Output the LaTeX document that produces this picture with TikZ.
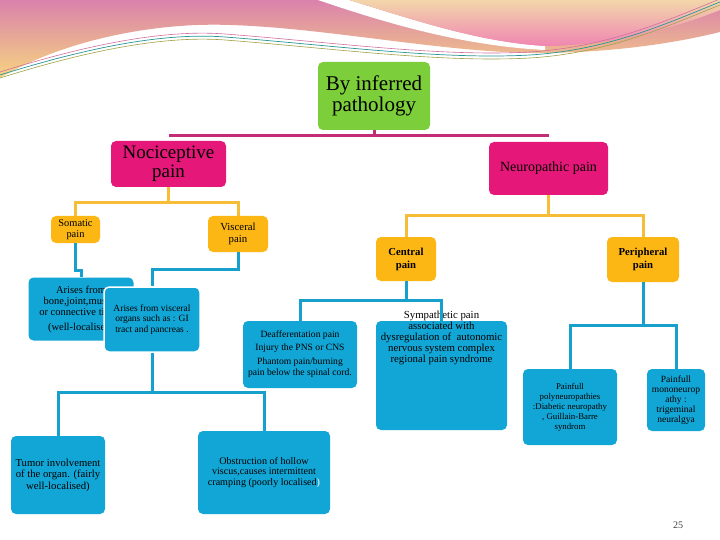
\documentclass[tikz,border=0pt]{standalone}
\usepackage{fontspec}
\setmainfont{Liberation Serif}
\usepackage{xcolor}

\definecolor{rootgreen}{RGB}{124,206,58}
\definecolor{nocipink}{RGB}{229,24,122}
\definecolor{linepink}{RGB}{196,44,118}
\definecolor{boxyellow}{RGB}{252,183,20}
\definecolor{lineyellow}{RGB}{246,190,56}
\definecolor{boxblue}{RGB}{18,166,214}
\definecolor{lineblue}{RGB}{24,160,204}
\definecolor{swpink}{RGB}{218,130,172}
\definecolor{swyellow}{RGB}{246,212,128}
\definecolor{swpeach}{RGB}{242,214,170}
\definecolor{swrose}{RGB}{240,134,178}
\definecolor{swteal}{RGB}{40,150,150}
\definecolor{swolive}{RGB}{160,160,70}
\definecolor{swline}{RGB}{208,112,160}

\tikzset{
  box/.style={rectangle,rounded corners=5pt,inner sep=0pt,align=center,text=black},
  greenbox/.style={box,fill=rootgreen},
  pinkbox/.style={box,fill=nocipink},
  yellowbox/.style={box,fill=boxyellow},
  bluebox/.style={box,fill=boxblue},
  pinkline/.style={draw=linepink,line width=3pt},
  yline/.style={draw=lineyellow,line width=3pt},
  bline/.style={draw=lineblue,line width=3pt}
}

\begin{document}
\begin{tikzpicture}[x=1pt,y=-1pt]
      \useasboundingbox (0,0) rectangle (720,540);
      \fill[white] (0,0) rectangle (720,540);
      % slide swoosh
      \shade[top color=swpink,bottom color=swyellow] (0,0) -- (0,78) .. controls (60,42) and (150,22) .. (230,25) .. controls (330,28) and (450,54) .. (545,53) .. controls (620,52) and (680,42) .. (720,32) -- (720,0) -- cycle;
      \fill[white] (318,0) .. controls (400,28) and (470,46) .. (545,50) -- (545,46) .. controls (480,42) and (420,22) .. (349,0) -- cycle;
      \shade[top color=swpeach,bottom color=swrose] (349,0) .. controls (420,22) and (480,42) .. (545,46) .. controls (620,46) and (690,22) .. (720,10) -- (720,0) -- cycle;
      \draw[swline,line width=0.6pt] (0,72) .. controls (80,47) and (160,29) .. (225,34) .. controls (330,42) and (440,57) .. (530,52) .. controls (610,47) and (670,19) .. (720,-1);
      \draw[swteal,line width=0.7pt] (0,75) .. controls (80,50) and (160,32) .. (225,37) .. controls (330,45) and (440,60) .. (530,55) .. controls (610,50) and (670,22) .. (720,2);
      \draw[swolive,line width=0.6pt] (0,78) .. controls (80,53) and (160,35) .. (225,40) .. controls (330,48) and (440,63) .. (530,58) .. controls (610,53) and (670,25) .. (720,5);

      \node[greenbox,minimum width=112,minimum height=68,font=\fontsize{21}{21}\selectfont] (root) at (374,96) {By inferred\\pathology};
      \node[pinkbox,minimum width=115,minimum height=46,font=\fontsize{19}{19}\selectfont] (noci) at (168.5,164) {Nociceptive\\pain};
      \node[pinkbox,minimum width=119,minimum height=53,font=\fontsize{14}{14}\selectfont] (neuro) at (548.5,168.5) {Neuropathic pain};
      \node[yellowbox,minimum width=49,minimum height=27,font=\fontsize{10.4}{11}\selectfont] (som) at (75.5,229.5) {Somatic\\pain};
      \node[yellowbox,minimum width=60,minimum height=36,font=\fontsize{10.8}{12}\selectfont] (visc) at (238,234) {Visceral\\pain};
      \node[yellowbox,minimum width=60,minimum height=44,font=\fontsize{10.7}{13}\selectfont\bfseries] (cent) at (406,259) {Central\\pain};
      \node[yellowbox,minimum width=72,minimum height=45,font=\fontsize{10.7}{13}\selectfont\bfseries] (peri) at (643,259.5) {Peripheral\\pain};

      \node[bluebox,minimum width=105,minimum height=63,font=\fontsize{10.5}{11}\selectfont] (bone) at (81,309) {Arises from\\bone,joint,muscle\\or connective tissue\\[4pt](well-localised)};
      \node[bluebox,draw=white,line width=1.5pt,minimum width=96,minimum height=65,font=\fontsize{9.5}{10.5}\selectfont] (vdet) at (152,319.5) {Arises from visceral\\organs such as : GI\\tract and pancreas .};
      \node[bluebox,minimum width=114,minimum height=67,font=\fontsize{9.6}{11}\selectfont] (deaf) at (300,354.5) {Deafferentation pain\\[2pt]Injury the PNS or CNS\\[3pt]Phantom pain/burning\\pain below the spinal cord.};
      \node[bluebox,minimum width=131,minimum height=109] (symp) at (441.5,375.5) {};
      \node[anchor=north,align=center,inner sep=0pt,font=\fontsize{10.8}{11}\selectfont] (symptxt) at ([yshift=9.5pt]symp.north) {Sympathetic pain\\associated with\\dysregulation of\ \ autonomic\\nervous system complex\\regional pain syndrome};
      \node[bluebox,minimum width=94,minimum height=76,font=\fontsize{8.8}{10}\selectfont] (poly) at (570,407) {Painfull\\polyneuropathies\\:Diabetic neuropathy\\, Guillain-Barre\\syndrom};
      \node[bluebox,minimum width=58,minimum height=62,font=\fontsize{9.5}{10}\selectfont] (mono) at (676,400) {Painfull\\mononeurop\\athy :\\trigeminal\\neuralgya};
      \node[bluebox,minimum width=94,minimum height=78,font=\fontsize{10.7}{11.5}\selectfont] (tumor) at (58,475) {Tumor involvement\\of the organ. (fairly\\well-localised)};
      \node[bluebox,minimum width=132,minimum height=83,font=\fontsize{10.1}{10.8}\selectfont] (obst) at (264,472.5) {Obstruction of hollow\\viscus,causes intermittent\\cramping (poorly localised\textcolor{white}{)}};
      \node[font=\fontsize{10}{10}\selectfont,text=black!75] (pnum) at (678,525) {25};

      % connectors
      \coordinate (pbar) at (0,136);
      \draw[pinkline] (noci.north |- pbar) -- (neuro.north |- pbar);
      \draw[pinkline] (root.south) -- (root.south |- pbar);
      \draw[yline] (noci.south) -- ++(0,15) -| (som.north);
      \draw[yline] (noci.south) -- ++(0,15) -| (visc.north);
      \draw[yline] (neuro.south) -- ++(0,20) -| (cent.north);
      \draw[yline] (neuro.south) -- ++(0,20) -| (peri.north);
      \draw[bline] (som.south) -- ++(0,27) -| (bone.north);
      \draw[bline] (visc.south) -- ++(0,17) -| (vdet.north);
      \draw[bline] (vdet.south) -- ++(0,40) -| (tumor.north);
      \draw[bline] (vdet.south) -- ++(0,40) -| (obst.north);
      \draw[bline] (cent.south) -- ++(0,19) -| (deaf.north);
      \draw[bline] (cent.south) -- ++(0,19) -| (symp.north);
      \draw[bline] (peri.south) -- ++(0,43) -| (poly.north);
      \draw[bline] (peri.south) -- ++(0,43) -| (mono.north);
    \end{tikzpicture}
\end{document}
